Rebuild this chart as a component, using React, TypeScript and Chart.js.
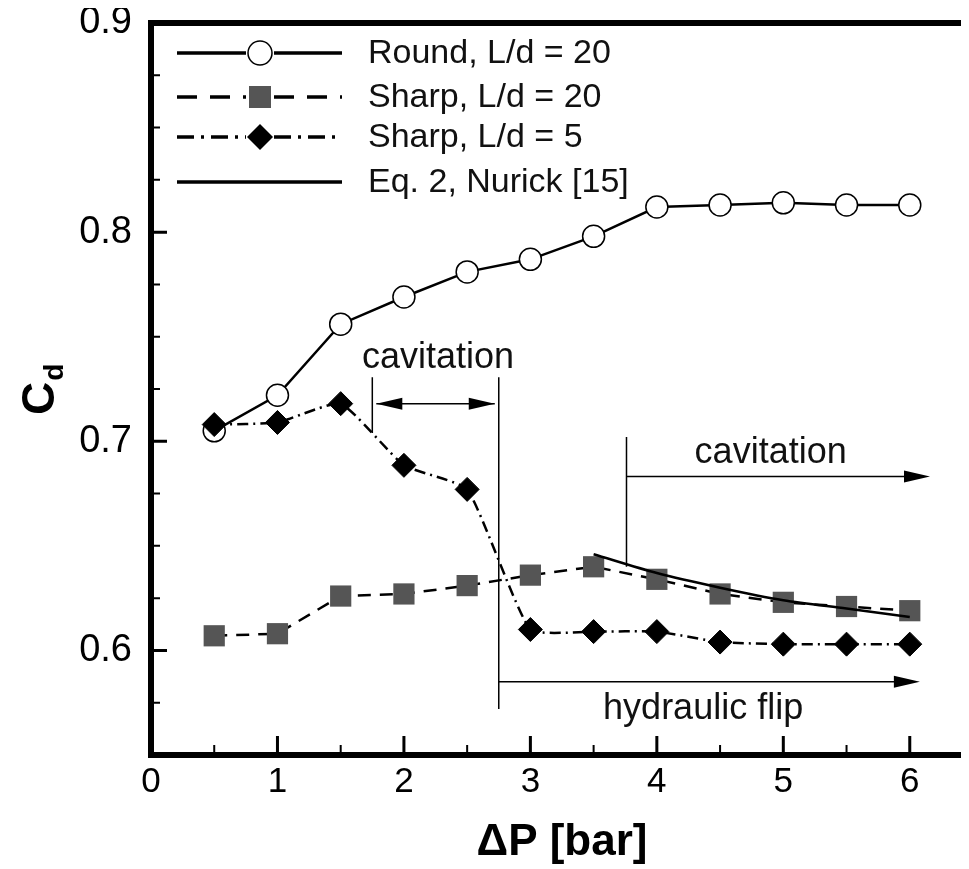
import React, { useEffect, useRef } from "react";
import { Chart, registerables } from "chart.js";

Chart.register(...registerables);

// ---- data ----
const pressureBar = [0.5, 1, 1.5, 2, 2.5, 3, 3.5, 4, 4.5, 5, 5.5, 6];
const cdRoundLd20 = [0.705, 0.722, 0.756, 0.769, 0.781, 0.787, 0.798, 0.812, 0.813, 0.814, 0.813, 0.813];
const cdSharpLd20 = [0.607, 0.608, 0.626, 0.627, 0.631, 0.636, 0.64, 0.634, 0.627, 0.623, 0.621, 0.619];
const cdSharpLd5 = [0.708, 0.709, 0.718, 0.6885, 0.677, 0.61, 0.609, 0.609, 0.604, 0.603, 0.603, 0.603];
const nurickPressure = [3.5, 4, 4.5, 5, 5.5, 6];
const cdNurick = [0.646, 0.637, 0.63, 0.624, 0.62, 0.616];
const seriesNames = ["Round, L/d = 20", "Sharp, L/d = 20", "Sharp, L/d = 5", "Eq. 2, Nurick [15]"];
const xTickValues = [0, 1, 2, 3, 4, 5, 6];
const yTickValues = [0.6, 0.7, 0.8, 0.9];
const xMinorValues = [0.5, 1.5, 2.5, 3.5, 4.5, 5.5, 6.5];
const yMinorValues = [0.575, 0.625, 0.65, 0.675, 0.725, 0.75, 0.775, 0.825, 0.85, 0.875];
const xTitle = "\u0394P [bar]";
const yTitleMain = "C";
const yTitleSub = "d";
const annotationTexts = ["cavitation", "cavitation", "hydraulic flip"];

const FONT = "'Liberation Sans', Arial, Helvetica, sans-serif";

function arrowHead(ctx: CanvasRenderingContext2D, x: number, y: number, dir: number) {
  const len = 26;
  const hw = 6;
  ctx.beginPath();
  ctx.moveTo(x, y);
  ctx.lineTo(x - dir * len, y - hw);
  ctx.lineTo(x - dir * len, y + hw);
  ctx.closePath();
  ctx.fill();
}

const decorPlugin = {
  id: "decor",
  afterDraw(chart: any) {
    const { ctx, chartArea: a, scales } = chart;
    const xs = scales.x;
    const ys = scales.y;
    const px = (v: number) => xs.getPixelForValue(v);
    const py = (v: number) => ys.getPixelForValue(v);
    ctx.save();

    // ---- frame ----
    ctx.strokeStyle = "#000";
    ctx.lineWidth = 6;
    ctx.lineCap = "square";
    ctx.lineJoin = "miter";
    ctx.beginPath();
    ctx.moveTo(a.right, a.top);
    ctx.lineTo(a.left, a.top);
    ctx.lineTo(a.left, a.bottom);
    ctx.lineTo(a.right, a.bottom);
    ctx.lineTo(a.right, a.top);
    ctx.stroke();

    // ---- ticks (inward) ----
    ctx.lineCap = "butt";
    ctx.lineWidth = 3;
    ctx.beginPath();
    xTickValues.forEach((v) => {
      const x = px(v);
      ctx.moveTo(x, a.bottom);
      ctx.lineTo(x, a.bottom - 19);
    });
    yTickValues.forEach((v) => {
      const y = py(v);
      ctx.moveTo(a.left, y);
      ctx.lineTo(a.left + 16, y);
    });
    ctx.stroke();
    ctx.lineWidth = 2;
    ctx.beginPath();
    xMinorValues.forEach((v) => {
      const x = px(v);
      ctx.moveTo(x, a.bottom);
      ctx.lineTo(x, a.bottom - 10);
    });
    yMinorValues.forEach((v) => {
      const y = py(v);
      ctx.moveTo(a.left, y);
      ctx.lineTo(a.left + 9, y);
    });
    ctx.stroke();

    // ---- annotations ----
    ctx.strokeStyle = "#000";
    ctx.fillStyle = "#000";
    ctx.lineWidth = 1.5;
    ctx.beginPath();
    // left cavitation bracket
    ctx.moveTo(px(1.75), py(0.7306));
    ctx.lineTo(px(1.75), py(0.704));
    ctx.moveTo(px(2.75), py(0.7306));
    ctx.lineTo(px(2.75), py(0.572));
    ctx.moveTo(px(1.75) + 4, py(0.718));
    ctx.lineTo(px(2.75) - 4, py(0.718));
    // hydraulic flip arrow
    ctx.moveTo(px(2.75), py(0.585));
    ctx.lineTo(px(6.08) - 10, py(0.585));
    // right cavitation
    ctx.moveTo(px(3.76), py(0.702));
    ctx.lineTo(px(3.76), py(0.64));
    ctx.moveTo(px(3.76), py(0.6832));
    ctx.lineTo(px(6.16) - 10, py(0.6832));
    ctx.stroke();
    arrowHead(ctx, px(1.75) + 4, py(0.718), -1);
    arrowHead(ctx, px(2.75) - 4, py(0.718), 1);
    arrowHead(ctx, px(6.08), py(0.585), 1);
    arrowHead(ctx, px(6.16), py(0.6832), 1);

    ctx.font = `36px ${FONT}`;
    ctx.textAlign = "center";
    ctx.textBaseline = "alphabetic";
    ctx.fillStyle = "#111";
    ctx.fillText(annotationTexts[0], px(2.27), py(0.735));
    ctx.fillText(annotationTexts[1], px(4.9), py(0.6895));
    ctx.fillText(annotationTexts[2], px(4.366), py(0.567));

    // ---- legend ----
    const rows = [45, 89, 129, 174];
    const x0 = 169;
    const x1 = 334;
    const xm = 252;
    const tx = 360;
    ctx.strokeStyle = "#000";
    ctx.lineWidth = 3.5;
    rows.forEach((ry, i) => {
      if (i === 1) ctx.setLineDash([20, 13]);
      else if (i === 2) ctx.setLineDash([17, 7, 3, 7]);
      else ctx.setLineDash([]);
      ctx.beginPath();
      if (i === 3) {
        ctx.moveTo(x0, ry);
        ctx.lineTo(x1, ry);
      } else {
        ctx.moveTo(x0, ry);
        ctx.lineTo(xm - 14, ry);
        ctx.moveTo(xm + 14, ry);
        ctx.lineTo(x1, ry);
      }
      ctx.stroke();
    });
    ctx.setLineDash([]);
    // markers
    ctx.beginPath();
    ctx.arc(xm, rows[0], 12, 0, Math.PI * 2);
    ctx.fillStyle = "#fff";
    ctx.fill();
    ctx.lineWidth = 1.5;
    ctx.strokeStyle = "#000";
    ctx.stroke();
    ctx.fillStyle = "#555";
    ctx.fillRect(xm - 11, rows[1] - 11, 22, 22);
    ctx.fillStyle = "#000";
    ctx.beginPath();
    ctx.moveTo(xm, rows[2] - 13);
    ctx.lineTo(xm + 13, rows[2]);
    ctx.lineTo(xm, rows[2] + 13);
    ctx.lineTo(xm - 13, rows[2]);
    ctx.closePath();
    ctx.fill();

    ctx.font = `34px ${FONT}`;
    ctx.textAlign = "left";
    ctx.textBaseline = "middle";
    ctx.fillStyle = "#111";
    seriesNames.forEach((name, i) => ctx.fillText(name, tx, rows[i] + 1));

    // ---- axis titles ----
    ctx.fillStyle = "#000";
    ctx.font = `bold 44px ${FONT}`;
    ctx.textAlign = "center";
    ctx.textBaseline = "alphabetic";
    ctx.fillText(xTitle, (a.left + a.right) / 2, 847);

    ctx.save();
    ctx.translate(46, 407);
    ctx.rotate(-Math.PI / 2);
    ctx.textAlign = "left";
    ctx.font = `bold 46px ${FONT}`;
    ctx.fillText(yTitleMain, 0, 0);
    const w = ctx.measureText(yTitleMain).width;
    ctx.font = `bold 28px ${FONT}`;
    ctx.fillText(yTitleSub, w + 1, 9);
    ctx.restore();

    ctx.restore();
  },
};

export default function App() {
  const ref = useRef<HTMLCanvasElement | null>(null);

  useEffect(() => {
    const canvas = ref.current;
    if (!canvas) return;
    const chart = new Chart(canvas, {
      type: "line",
      data: {
        datasets: [
          {
            label: seriesNames[0],
            data: pressureBar.map((x, i) => ({ x, y: cdRoundLd20[i] })),
            borderColor: "#000",
            borderWidth: 2.5,
            pointStyle: "circle",
            pointRadius: 11,
            pointBackgroundColor: "#fff",
            pointBorderColor: "#000",
            pointBorderWidth: 1.5,
            tension: 0,
            order: 2,
          },
          {
            label: seriesNames[1],
            data: pressureBar.map((x, i) => ({ x, y: cdSharpLd20[i] })),
            borderColor: "#000",
            borderWidth: 2.5,
            borderDash: [13, 9],
            pointStyle: "rect",
            pointRadius: 15,
            pointBackgroundColor: "#555",
            pointBorderColor: "#555",
            pointBorderWidth: 0,
            tension: 0,
            order: 3,
          },
          {
            label: seriesNames[2],
            data: pressureBar.map((x, i) => ({ x, y: cdSharpLd5[i] })),
            borderColor: "#000",
            borderWidth: 2.5,
            borderDash: [11, 5, 2, 5],
            pointStyle: "rectRot",
            pointRadius: 12,
            pointBackgroundColor: "#000",
            pointBorderColor: "#000",
            pointBorderWidth: 1,
            tension: 0.15,
            order: 0,
          },
          {
            label: seriesNames[3],
            data: nurickPressure.map((x, i) => ({ x, y: cdNurick[i] })),
            borderColor: "#000",
            borderWidth: 2.5,
            pointRadius: 0,
            tension: 0.3,
            order: 1,
          },
        ],
      },
      options: {
        responsive: false,
        animation: false,
        layout: { padding: { top: 15, right: 12, left: 0, bottom: 0 } },
        plugins: { legend: { display: false }, tooltip: { enabled: false } },
        scales: {
          x: {
            type: "linear",
            min: 0,
            max: 6.5,
            grid: { display: false, drawTicks: false },
            border: { display: false },
            afterBuildTicks: (s: any) => {
              s.ticks = xTickValues.map((v) => ({ value: v }));
            },
            afterFit: (s: any) => {
              s.height = 114;
              s.paddingLeft = 0;
              s.paddingRight = 0;
            },
            ticks: {
              font: { family: FONT, size: 35 },
              color: "#000",
              padding: 6,
              maxRotation: 0,
              autoSkip: false,
              callback: (v: any) => String(v),
            },
          },
          y: {
            type: "linear",
            min: 0.55,
            max: 0.9,
            grid: { display: false, drawTicks: false },
            border: { display: false },
            afterBuildTicks: (s: any) => {
              s.ticks = yTickValues.map((v) => ({ value: v }));
            },
            afterFit: (s: any) => {
              s.width = 143;
              s.paddingTop = 0;
              s.paddingBottom = 0;
            },
            ticks: {
              font: { family: FONT, size: 38 },
              color: "#000",
              padding: 19,
              autoSkip: false,
              callback: (v: any) => Number(v).toFixed(1),
            },
          },
        },
      },
      plugins: [decorPlugin],
    } as any);
    return () => chart.destroy();
  }, []);

  return (
    <div style={{ width: 961, height: 861, overflow: "hidden" }}>
      <canvas ref={ref} width={980} height={861} style={{ display: "block", width: 980, height: 861 }} />
    </div>
  );
}
